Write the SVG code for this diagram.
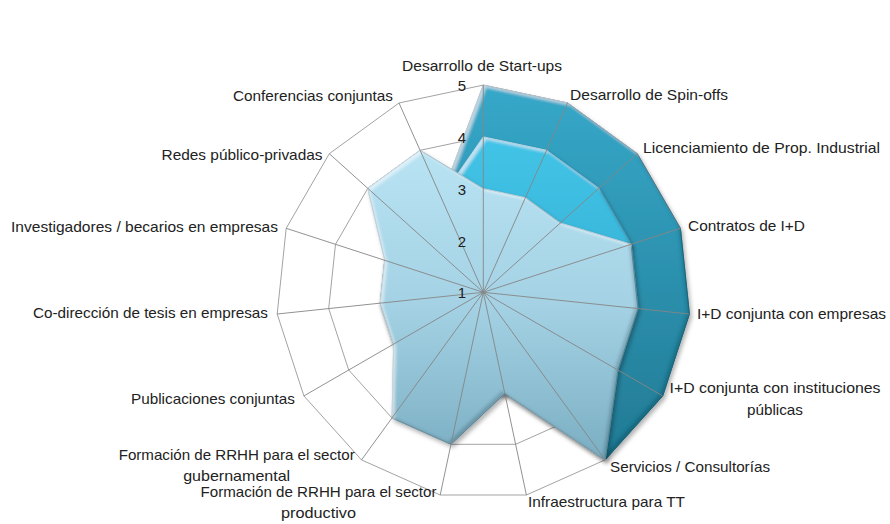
<svg xmlns="http://www.w3.org/2000/svg" width="890" height="524" viewBox="0 0 890 524">
<style>
.lbl{font-family:"Liberation Sans",Arial,sans-serif;font-size:15px;fill:#222;}
.num{font-family:"Liberation Sans",Arial,sans-serif;font-size:15px;fill:#222;text-anchor:end;}
.ring{fill:none;stroke:#a3a3a3;stroke-width:1;}
.spoke{stroke:#868686;stroke-width:0.9;}
</style>
<defs>
<linearGradient id="gDark" x1="0" y1="85" x2="0" y2="460" gradientUnits="userSpaceOnUse">
<stop offset="0" stop-color="#36A8C9"/><stop offset="1" stop-color="#227A94"/>
</linearGradient>
<linearGradient id="gCyan" x1="0" y1="137" x2="0" y2="300" gradientUnits="userSpaceOnUse">
<stop offset="0" stop-color="#42C4E7"/><stop offset="1" stop-color="#35B2D7"/>
</linearGradient>
<linearGradient id="gLight" x1="0" y1="150" x2="0" y2="460" gradientUnits="userSpaceOnUse">
<stop offset="0" stop-color="#B8E3F3"/><stop offset="0.5" stop-color="#A4D2E4"/><stop offset="1" stop-color="#7BAEC3"/>
</linearGradient>
<filter id="bev" x="-10%" y="-10%" width="120%" height="120%">
<feGaussianBlur in="SourceAlpha" stdDeviation="2" result="ds0"/>
<feOffset in="ds0" dx="1.5" dy="2.5" result="ds1"/>
<feFlood flood-color="#000" flood-opacity="0.3"/>
<feComposite in2="ds1" operator="in" result="ds"/>
<feOffset in="SourceAlpha" dx="3" dy="3" result="o1"/>
<feGaussianBlur in="o1" stdDeviation="1.5" result="b1"/>
<feComposite in="SourceAlpha" in2="b1" operator="out" result="hl"/>
<feFlood flood-color="#fff" flood-opacity="0.5"/>
<feComposite in2="hl" operator="in" result="hlc"/>
<feOffset in="SourceAlpha" dx="-3" dy="-3" result="o2"/>
<feGaussianBlur in="o2" stdDeviation="1.5" result="b2"/>
<feComposite in="SourceAlpha" in2="b2" operator="out" result="sh"/>
<feFlood flood-color="#0a2a38" flood-opacity="0.35"/>
<feComposite in2="sh" operator="in" result="shc"/>
<feMerge><feMergeNode in="ds"/><feMergeNode in="SourceGraphic"/><feMergeNode in="hlc"/><feMergeNode in="shc"/></feMerge>
</filter>
</defs>
<rect width="890" height="524" fill="#fff"/>
<g id="grid-rings">
<polygon class="ring" points="483.3,85.1 567.6,103.0 637.3,153.7 680.4,228.3 689.4,314.0 662.7,395.9 605.1,459.9 526.4,495.0 440.2,495.0 361.5,459.9 303.9,395.9 277.2,314.0 286.2,228.3 329.3,153.7 399.0,103.0"/>
<polygon class="ring" points="483.3,136.9 546.5,150.3 598.8,188.3 631.1,244.3 637.9,308.5 617.9,370.0 574.6,418.0 515.6,444.3 451.0,444.3 392.0,418.0 348.7,370.0 328.7,308.5 335.5,244.3 367.8,188.3 420.1,150.3"/>
<polygon class="ring" points="483.3,188.7 525.4,197.7 560.3,223.0 581.8,260.3 586.3,303.1 573.0,344.1 544.2,376.1 504.8,393.6 461.8,393.6 422.4,376.1 393.6,344.1 380.3,303.1 384.8,260.3 406.3,223.0 441.2,197.7"/>
<polygon class="ring" points="483.3,240.5 504.4,245.0 521.8,257.6 532.6,276.3 534.8,297.7 528.2,318.2 513.8,334.2 494.1,343.0 472.5,343.0 452.9,334.2 438.4,318.2 431.8,297.7 434.0,276.3 444.8,257.6 462.2,245.0"/>
</g>
<g id="series-dark">
<polygon filter="url(#bev)" fill="url(#gDark)" stroke="#237790" stroke-width="1" stroke-linejoin="round" points="483.3,85.1 567.6,103.0 637.3,153.7 680.4,228.3 689.4,314.0 662.7,395.9 605.1,459.9 504.8,393.6 461.8,393.6 422.4,376.1 393.6,344.1 380.3,303.1 384.8,260.3 406.3,223.0 441.2,197.7"/>
</g>
<g id="series-cyan">
<polygon filter="url(#bev)" fill="url(#gCyan)" stroke="#2FA3C7" stroke-width="1" stroke-linejoin="round" points="483.3,136.9 546.5,150.3 598.8,188.3 631.1,244.3 586.3,303.1 573.0,344.1 544.2,376.1 504.8,393.6 461.8,393.6 422.4,376.1 393.6,344.1 380.3,303.1 384.8,260.3 406.3,223.0 441.2,197.7"/>
</g>
<g id="series-light">
<polygon filter="url(#bev)" fill="url(#gLight)" stroke="#6E9FB3" stroke-width="1" stroke-linejoin="round" points="483.3,188.7 525.4,197.7 560.3,223.0 631.1,244.3 637.9,308.5 617.9,370.0 605.1,459.9 504.8,393.6 451.0,444.3 392.0,418.0 393.6,344.1 380.3,303.1 384.8,260.3 367.8,188.3 420.1,150.3"/>
</g>
<g id="connectors">
<line class="spoke" x1="483.3" y1="292.3" x2="483.3" y2="85.1"/>
<line class="spoke" x1="483.3" y1="292.3" x2="567.6" y2="103.0"/>
<line class="spoke" x1="483.3" y1="292.3" x2="637.3" y2="153.7"/>
<line class="spoke" x1="483.3" y1="292.3" x2="680.4" y2="228.3"/>
<line class="spoke" x1="483.3" y1="292.3" x2="689.4" y2="314.0"/>
<line class="spoke" x1="483.3" y1="292.3" x2="662.7" y2="395.9"/>
<line class="spoke" x1="483.3" y1="292.3" x2="605.1" y2="459.9"/>
<line class="spoke" x1="483.3" y1="292.3" x2="526.4" y2="495.0"/>
<line class="spoke" x1="483.3" y1="292.3" x2="440.2" y2="495.0"/>
<line class="spoke" x1="483.3" y1="292.3" x2="361.5" y2="459.9"/>
<line class="spoke" x1="483.3" y1="292.3" x2="303.9" y2="395.9"/>
<line class="spoke" x1="483.3" y1="292.3" x2="277.2" y2="314.0"/>
<line class="spoke" x1="483.3" y1="292.3" x2="286.2" y2="228.3"/>
<line class="spoke" x1="483.3" y1="292.3" x2="329.3" y2="153.7"/>
<line class="spoke" x1="483.3" y1="292.3" x2="399.0" y2="103.0"/>
</g>
<g id="scale">
<text class="num" x="466" y="91">5</text>
<text class="num" x="466" y="143">4</text>
<text class="num" x="466" y="195">3</text>
<text class="num" x="466" y="247">2</text>
<text class="num" x="466" y="298">1</text>
</g>
<g id="labels">
<text id="n0" class="lbl" x="482" y="71" text-anchor="middle" textLength="160" lengthAdjust="spacingAndGlyphs">Desarrollo de Start-ups</text>
<text id="n1" class="lbl" x="570" y="100" textLength="158" lengthAdjust="spacingAndGlyphs">Desarrollo de Spin-offs</text>
<text id="n2" class="lbl" x="643" y="153" textLength="237" lengthAdjust="spacingAndGlyphs">Licenciamiento de Prop. Industrial</text>
<text id="n3" class="lbl" x="688" y="231" textLength="117" lengthAdjust="spacingAndGlyphs">Contratos de I+D</text>
<text id="n4" class="lbl" x="697" y="319" textLength="189" lengthAdjust="spacingAndGlyphs">I+D conjunta con empresas</text>
<g id="n5">
<text class="lbl" x="775" y="393" text-anchor="middle" textLength="211" lengthAdjust="spacingAndGlyphs">I+D conjunta con instituciones</text>
<text class="lbl" x="775" y="415" text-anchor="middle" textLength="56" lengthAdjust="spacingAndGlyphs">públicas</text>
</g>
<text id="n6" class="lbl" x="610" y="472" textLength="160" lengthAdjust="spacingAndGlyphs">Servicios / Consultorías</text>
<text id="n7" class="lbl" x="528" y="507" textLength="157" lengthAdjust="spacingAndGlyphs">Infraestructura para TT</text>
<g id="n8">
<text class="lbl" x="318.5" y="497" text-anchor="middle" textLength="236" lengthAdjust="spacingAndGlyphs">Formación de RRHH para el sector</text>
<text class="lbl" x="318.5" y="518" text-anchor="middle" textLength="75" lengthAdjust="spacingAndGlyphs">productivo</text>
</g>
<g id="n9">
<text class="lbl" x="236.7" y="459.5" text-anchor="middle" textLength="236" lengthAdjust="spacingAndGlyphs">Formación de RRHH para el sector</text>
<text class="lbl" x="236.7" y="481" text-anchor="middle" textLength="107" lengthAdjust="spacingAndGlyphs">gubernamental</text>
</g>
<text id="n10" class="lbl" x="295" y="404" text-anchor="end" textLength="164" lengthAdjust="spacingAndGlyphs">Publicaciones conjuntas</text>
<text id="n11" class="lbl" x="268" y="318" text-anchor="end" textLength="235" lengthAdjust="spacingAndGlyphs">Co-dirección de tesis en empresas</text>
<text id="n12" class="lbl" x="278" y="232" text-anchor="end" textLength="267" lengthAdjust="spacingAndGlyphs">Investigadores / becarios en empresas</text>
<text id="n13" class="lbl" x="322.5" y="160" text-anchor="end" textLength="161" lengthAdjust="spacingAndGlyphs">Redes público-privadas</text>
<text id="n14" class="lbl" x="393" y="101" text-anchor="end" textLength="160" lengthAdjust="spacingAndGlyphs">Conferencias conjuntas</text>
</g>
</svg>
